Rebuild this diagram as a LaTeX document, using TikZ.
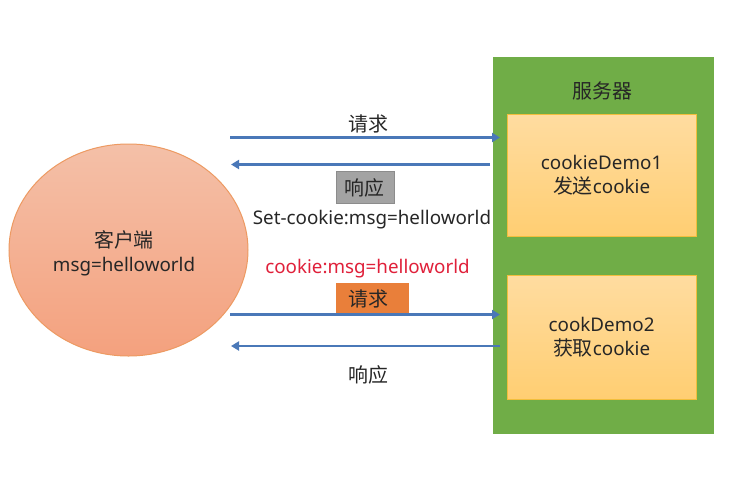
\documentclass[tikz,border=0pt]{standalone}
\usepackage{fontspec}
\setmainfont{Noto Sans}
\newfontfamily\cjk[Scale=1.06]{Noto Sans CJK SC}
\usetikzlibrary{arrows.meta,shapes.geometric}
\definecolor{srvgreen}{HTML}{70AD47}
\definecolor{arrowblue}{HTML}{4A78B8}
\definecolor{txt}{HTML}{262626}
\definecolor{boxtop}{HTML}{FFDCA0}
\definecolor{boxbot}{HTML}{FFCE72}
\definecolor{boxedge}{HTML}{F2BE3C}
\definecolor{cirtop}{HTML}{F4C0A8}
\definecolor{cirbot}{HTML}{F4A17E}
\definecolor{ciredge}{HTML}{ED9A62}
\definecolor{redtxt}{HTML}{E0203A}
\definecolor{tagorange}{HTML}{E97F3A}
\definecolor{taggray}{HTML}{A3A3A3}
\definecolor{taggrayedge}{HTML}{8C8C8C}
\tikzset{
  lbl/.style={text=txt,font=\fontsize{18.8}{24}\selectfont,inner sep=0pt,align=center},
  innerbox/.style={draw=boxedge,line width=1.2pt,anchor=north west,minimum width=189pt,lbl,top color=boxtop,bottom color=boxbot},
  flow/.style={draw=arrowblue,line width=2.4pt,-{Triangle[length=8pt,width=9pt]}},
  tagbox/.style={anchor=north west,inner sep=0pt},
}
\begin{document}
\begin{tikzpicture}[x=1pt,y=-1pt]
\useasboundingbox (0,0) rectangle (744,477);
\fill[white] (0,0) rectangle (744,477);
% server
\node[fill=srvgreen,anchor=north west,minimum width=221pt,minimum height=377pt,inner sep=0pt] (server) at (493,57) {};
\node[lbl] (servertitle) at (602.5,91) {\cjk 服务器};
\node[innerbox,minimum height=122pt] (demoone) at (506.5,114) {cookieDemo1\\{\cjk 发送}cookie};
\node[innerbox,minimum height=124pt] (demotwo) at (506.5,274.5) {cookDemo2\\{\cjk 获取}cookie};
% client
\node[ellipse,draw=ciredge,line width=1pt,top color=cirtop,bottom color=cirbot,minimum width=239pt,minimum height=212pt,inner sep=0pt] (client) at (128.5,250) {};
\node[lbl] (clienttext) at (124,253) {{\cjk 客户端}\\msg=helloworld};
% tags
\node[tagbox,fill=taggray,draw=taggrayedge,line width=.8pt,minimum width=58pt,minimum height=32pt] (tagresp) at (336,171) {};
\node[lbl] (tagresptext) at (364.5,188) {\cjk 响应};
\node[tagbox,fill=tagorange,minimum width=73pt,minimum height=31pt] (tagreq) at (336,283) {};
\node[lbl] (tagreqtext) at (368,299) {\cjk 请求};
% connector end points
\coordinate (aone) at (230,137.5);
\coordinate (bone) at (500,137.5);
\coordinate (atwo) at (490,164.5);
\coordinate (btwo) at (231,164.5);
\coordinate (athree) at (230,314.5);
\coordinate (bthree) at (500,314.5);
\coordinate (afour) at (500,346);
\coordinate (bfour) at (231,346);
\draw[flow] (aone) -- (bone);
\draw[flow] (atwo) -- (btwo);
\draw[flow] (athree) -- (bthree);
\draw[flow] (afour) -- (bfour);
% labels
\node[lbl] (lblreq) at (368,124) {\cjk 请求};
\node[lbl] (lblset) at (372,220) {Set-cookie:msg=helloworld};
\node[lbl,text=redtxt] (lblcookie) at (367.5,268.5) {cookie:msg=helloworld};
\node[lbl] (lblresp) at (368,375) {\cjk 响应};
\end{tikzpicture}
\end{document}
